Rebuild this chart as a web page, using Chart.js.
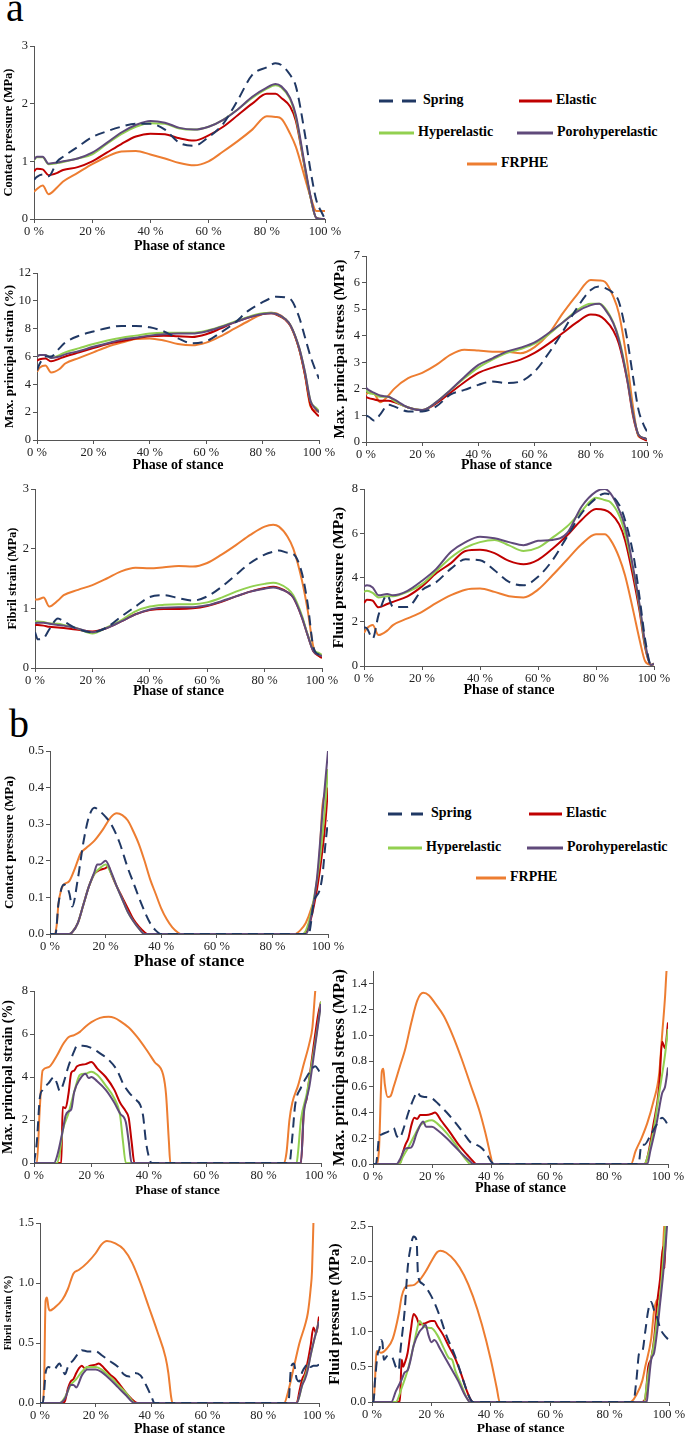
<!DOCTYPE html>
<html>
<head>
<meta charset="utf-8">
<script src="https://cdn.jsdelivr.net/npm/chart.js@4.4.1/dist/chart.umd.min.js"></script>
<style>
  html, body { margin: 0; padding: 0; background: #fff; }
  body { position: relative; width: 685px; height: 1437px; overflow: hidden; font-family: 'Liberation Serif', 'Times New Roman', serif; }
  canvas { position: absolute; }
  .letter { position: absolute; font-size: 40px; line-height: 40px; color: #000; }
  .leg { position: absolute; font-weight: bold; font-size: 14px; line-height: 16px; white-space: nowrap; color: #000; }
  svg { position: absolute; overflow: visible; }
</style>
</head>
<body>
<div class="letter" style="left:6px;top:-12px">a</div>
<div class="letter" style="left:9px;top:704px">b</div>
<script>
const SERIES = ['Spring', 'Elastic', 'Hyperelastic', 'Porohyperelastic', 'FRPHE'];
const COLORS = ['#203864', '#c00000', '#92d050', '#604a7b', '#ed7d31'];
const PHASE_TICKS = [0, 20, 40, 60, 80, 100];

// ---- panel a : one phase grid (%) shared by all curves
const X_A = [0,1,3,5,8,10,15,20,25,30,35,40,45,50,55,60,65,70,75,80,83,85,88,90,93,95,97,99,100];

// contact pressure (MPa)
const A1_SPRING  = [0.68,0.73,0.77,0.74,1.0,1.08,1.25,1.42,1.52,1.6,1.65,1.65,1.55,1.32,1.27,1.42,1.65,2.06,2.5,2.63,2.7,2.67,2.5,2.3,1.5,0.85,0.33,0.1,0.0];
const A1_ELASTIC = [0.83,0.87,0.86,0.76,0.8,0.85,0.9,1.0,1.15,1.3,1.43,1.48,1.47,1.4,1.36,1.45,1.6,1.8,2.0,2.17,2.17,2.1,1.95,1.7,0.9,0.38,0.02,0,0];
const A1_HYPER   = [1.02,1.07,1.07,0.95,0.97,0.99,1.05,1.12,1.3,1.47,1.6,1.66,1.65,1.57,1.55,1.6,1.72,1.9,2.1,2.26,2.32,2.28,2.08,1.76,0.92,0.38,0.02,0,0];
const A1_PORO    = [1.03,1.08,1.08,0.96,0.98,1.0,1.05,1.15,1.32,1.5,1.63,1.7,1.67,1.58,1.55,1.6,1.72,1.9,2.12,2.28,2.34,2.3,2.1,1.8,0.95,0.4,0.02,0,0];
const A1_FRPHE   = [0.47,0.52,0.58,0.43,0.55,0.65,0.8,0.95,1.08,1.17,1.18,1.12,1.05,0.97,0.93,1.0,1.17,1.35,1.55,1.78,1.77,1.74,1.48,1.25,0.73,0.39,0.14,0.14,0.14];

// max. principal strain (%)
const A2_SPRING  = [5.0,5.5,6.0,6.0,6.6,7.0,7.5,7.8,8.05,8.2,8.2,8.1,7.8,7.3,6.95,7.1,7.7,8.4,9.3,9.9,10.2,10.3,10.25,10.1,8.8,7.4,6.0,4.9,4.4];
const A2_ELASTIC = [5.7,5.8,5.85,5.65,5.85,6.0,6.3,6.6,6.9,7.1,7.3,7.45,7.5,7.45,7.4,7.6,8.0,8.45,8.8,9.05,9.1,9.0,8.65,8.15,6.5,4.7,2.5,1.9,1.7];
const A2_HYPER   = [6.0,6.1,6.1,5.9,6.1,6.3,6.6,6.9,7.15,7.35,7.5,7.65,7.7,7.7,7.7,7.85,8.15,8.5,8.85,9.1,9.15,9.05,8.7,8.2,6.6,4.9,2.8,2.3,2.1];
const A2_PORO    = [6.0,6.1,6.1,5.9,6.0,6.15,6.4,6.7,6.95,7.2,7.35,7.5,7.6,7.65,7.65,7.8,8.1,8.45,8.8,9.05,9.1,9.05,8.7,8.2,6.6,4.9,2.8,2.2,2.0];
const A2_FRPHE   = [4.9,5.2,5.35,4.85,5.1,5.5,5.9,6.3,6.7,7.0,7.25,7.3,7.15,6.9,6.8,7.0,7.45,8.0,8.55,9.05,9.15,9.1,8.7,8.2,6.5,4.7,2.4,2.1,2.0];

// max. principal stress (MPa)
const A3_SPRING  = [1.0,0.95,0.8,1.03,1.4,1.34,1.15,1.15,1.34,1.78,1.96,2.15,2.28,2.22,2.28,2.65,3.34,4.15,5.03,5.72,5.85,5.8,5.6,5.28,3.84,2.47,1.2,0.6,0.4];
const A3_ELASTIC = [1.7,1.65,1.6,1.55,1.55,1.5,1.3,1.2,1.45,1.85,2.25,2.6,2.8,2.95,3.1,3.35,3.7,4.1,4.5,4.8,4.75,4.6,4.2,3.7,2.3,1.0,0.25,0.1,0.05];
const A3_HYPER   = [1.95,1.85,1.8,1.7,1.7,1.55,1.3,1.2,1.5,1.95,2.4,2.8,3.1,3.35,3.5,3.7,4.05,4.5,4.95,5.2,5.2,5.05,4.5,3.9,2.4,1.1,0.27,0.15,0.1];
const A3_PORO    = [2.05,1.95,1.85,1.75,1.7,1.6,1.3,1.2,1.5,1.95,2.45,2.9,3.15,3.4,3.55,3.75,4.1,4.5,4.9,5.15,5.2,5.0,4.47,3.84,2.34,1.09,0.27,0.15,0.1];
const A3_FRPHE   = [1.8,1.85,1.8,1.5,1.75,2.0,2.4,2.6,2.9,3.28,3.47,3.44,3.4,3.4,3.34,3.57,4.07,4.84,5.53,6.1,6.08,6.03,5.47,4.84,2.97,1.34,0.21,0.15,0.1];

// fibril strain (MPa)
const A4_SPRING  = [0.6,0.48,0.5,0.65,0.83,0.78,0.65,0.6,0.68,0.86,1.03,1.19,1.22,1.17,1.13,1.2,1.36,1.56,1.76,1.9,1.95,1.97,1.93,1.91,1.59,1.08,0.35,0.22,0.18];
const A4_ELASTIC = [0.72,0.72,0.71,0.69,0.68,0.67,0.64,0.61,0.67,0.78,0.9,0.97,0.99,0.99,1.0,1.04,1.11,1.2,1.28,1.34,1.36,1.34,1.27,1.18,0.85,0.55,0.28,0.2,0.17];
const A4_HYPER   = [0.78,0.78,0.77,0.75,0.74,0.72,0.66,0.58,0.68,0.8,0.95,1.03,1.06,1.07,1.07,1.1,1.18,1.28,1.36,1.41,1.43,1.41,1.33,1.22,0.88,0.56,0.3,0.25,0.22];
const A4_PORO    = [0.75,0.76,0.76,0.74,0.72,0.71,0.66,0.6,0.67,0.78,0.9,0.98,1.01,1.02,1.02,1.05,1.12,1.2,1.28,1.33,1.35,1.33,1.27,1.18,0.85,0.55,0.28,0.22,0.2];
const A4_FRPHE   = [1.15,1.15,1.18,1.03,1.13,1.22,1.31,1.39,1.5,1.62,1.68,1.67,1.69,1.71,1.7,1.76,1.9,2.06,2.23,2.37,2.4,2.37,2.2,2.0,1.47,0.97,0.35,0.2,0.17];

// fluid pressure (MPa)
const A5_SPRING  = [1.75,1.7,1.24,2.3,3.2,2.67,2.67,3.43,3.8,4.4,4.82,4.78,4.33,3.8,3.65,4.03,4.78,5.84,6.9,7.58,7.8,7.73,7.28,6.6,4.94,3.12,1.16,0.05,0.05];
const A5_ELASTIC = [2.85,3.0,2.95,2.65,2.8,2.9,3.15,3.6,4.2,4.65,5.2,5.25,5.1,4.75,4.6,4.8,5.3,5.9,6.6,7.1,7.05,6.9,6.4,5.7,3.9,2.5,0.8,0.05,0.1];
const A5_HYPER   = [3.35,3.4,3.3,3.1,3.15,3.15,3.35,3.7,4.3,4.9,5.35,5.6,5.7,5.45,5.2,5.35,5.8,6.3,7.0,7.6,7.5,7.4,6.8,6.0,4.2,2.7,0.9,0.05,0.1];
const A5_PORO    = [3.6,3.65,3.55,3.2,3.25,3.2,3.4,3.85,4.4,5.16,5.6,5.84,5.77,5.6,5.46,5.66,5.7,6.0,7.2,7.88,8.0,7.8,7.05,6.3,4.3,2.8,1.0,0.05,0.1];
const A5_FRPHE   = [1.5,1.7,1.85,1.4,1.6,1.85,2.15,2.45,2.85,3.2,3.45,3.5,3.35,3.15,3.1,3.45,4.1,4.8,5.5,5.95,5.95,5.7,4.9,4.1,2.4,1.2,0.2,0.05,0.1];

// ---- panel b : [phase %, value] pairs per curve
const B1_SPRING  = [[0,0],[2,0],[3,0.08],[5,0.135],[6,0.13],[7,0.11],[8,0.075],[10,0.15],[12,0.25],[14,0.32],[16,0.345],[18,0.335],[20,0.32],[22,0.3],[25,0.25],[28,0.18],[30,0.14],[33,0.08],[36,0.03],[38,0.01],[40,0],[93,0],[95,0.09],[97,0.12],[98,0.16],[99,0.24],[100,0.31]];
const B1_ELASTIC = [[0,0],[7,0],[8,0.005],[10,0.03],[12,0.08],[14,0.13],[16,0.165],[18,0.175],[20,0.18],[21,0.185],[22,0.165],[24,0.13],[26,0.1],[28,0.07],[30,0.04],[32,0.02],[34,0.005],[35,0],[91,0],[93,0.02],[95,0.08],[97,0.17],[99,0.3],[100,0.4]];
const B1_HYPER   = [[0,0],[7,0],[8,0.005],[10,0.03],[12,0.08],[14,0.13],[16,0.165],[18,0.18],[20,0.19],[22,0.165],[24,0.13],[26,0.095],[28,0.06],[30,0.035],[32,0.015],[34,0],[91,0],[93,0.03],[95,0.1],[97,0.2],[99,0.35],[100,0.45]];
const B1_PORO    = [[0,0],[7,0],[8,0.005],[10,0.03],[12,0.08],[14,0.13],[16,0.17],[17,0.19],[18,0.19],[20,0.2],[22,0.17],[24,0.13],[26,0.095],[28,0.06],[30,0.035],[32,0.015],[34,0],[92,0],[94,0.05],[96,0.15],[98,0.33],[100,0.5]];
const B1_FRPHE   = [[0,0],[1.5,0],[2.5,0.03],[3,0.08],[4,0.12],[5,0.135],[7,0.145],[9,0.18],[11,0.22],[13,0.235],[16,0.255],[19,0.285],[22,0.32],[24,0.33],[26,0.325],[28,0.31],[30,0.28],[32,0.245],[34,0.2],[36,0.15],[38,0.11],[40,0.07],[42,0.04],[44,0.018],[46,0.004],[47,0],[88,0],[90,0.01],[92,0.03],[94,0.07],[96,0.13],[97,0.22],[98,0.35],[99,0.39],[100,0.45]];

const B2_SPRING  = [[0,0],[1,1.0],[2,3.0],[3,3.4],[5,3.7],[7,4.0],[8,3.7],[9,3.35],[10,3.6],[12,4.5],[14,5.2],[15,5.45],[17,5.45],[20,5.35],[23,5.1],[26,4.8],[29,4.3],[31,3.7],[33,3.3],[35,3.0],[37,2.7],[38,2.2],[39,1.0],[40,0.3],[41,0],[89,0],[90,1.2],[91,2.7],[93,3.5],[95,4.0],[97,4.4],[98,4.5],[99,4.35],[100,4.1]];
const B2_ELASTIC = [[0,0],[9.5,0],[10,2.6],[11,2.55],[12,3.2],[13,4.2],[14,4.3],[15,4.5],[18,4.6],[20,4.7],[22,4.4],[25,4.0],[28,3.4],[30,2.8],[32,2.4],[33,2.1],[34,1.0],[35,0],[93,0],[94,2.4],[95,3.0],[96,4.0],[97,5.0],[98,6.0],[99,6.9],[100,7.5]];
const B2_HYPER   = [[0,0],[8,0],[9,0.5],[10,1.5],[12,2.3],[14,3.3],[16,4.1],[18,4.15],[20,4.25],[22,4.1],[25,3.6],[28,3.0],[30,2.2],[31,1.0],[32,0],[91.5,0],[92,0.5],[93,2.0],[95,3.2],[97,4.8],[99,6.5],[100,7.5]];
const B2_PORO    = [[0,0],[7,0],[8,0.3],[10,1.5],[11,2.2],[12,2.4],[13,2.5],[14,3.3],[16,3.9],[18,4.15],[19,3.95],[20,4.0],[22,3.8],[25,3.4],[28,2.8],[30,2.3],[32,1.9],[33,1.0],[34,0],[93,0],[94,2.3],[95,3.0],[96,3.6],[98,5.5],[100,7.4]];
const B2_FRPHE   = [[0,0],[1,0],[2,2.5],[3,4.3],[5,4.45],[8,5.0],[10,5.5],[12,5.85],[14,5.95],[16,6.1],[18,6.35],[20,6.55],[23,6.75],[26,6.8],[28,6.75],[30,6.6],[33,6.3],[36,5.85],[39,5.3],[42,4.7],[45,4.1],[46,3.2],[47,1.0],[47.5,0],[87,0],[88,0.5],[89,2.0],[90,2.8],[92,3.6],[94,4.6],[96,5.6],[97,6.3],[98,8.0],[98.5,8.6]];

const B3_SPRING  = [[0,0],[1,0],[1.5,0.08],[2,0.2],[3,0.23],[5,0.25],[7,0.28],[8,0.22],[9,0.2],[10,0.25],[12,0.4],[14,0.52],[15,0.56],[16,0.53],[18,0.52],[20,0.51],[22,0.47],[25,0.4],[28,0.32],[31,0.23],[33,0.17],[35,0.15],[37,0.12],[39,0.06],[40,0.02],[41,0],[90,0],[91,0.15],[92,0.15],[94,0.22],[96,0.3],[98,0.36],[99,0.34],[100,0.3]];
const B3_ELASTIC = [[0,0],[9,0],[10,0.08],[11,0.15],[12,0.2],[13,0.3],[14,0.36],[15,0.35],[16,0.38],[18,0.38],[20,0.39],[21,0.4],[23,0.34],[26,0.25],[29,0.15],[32,0.07],[34,0.02],[35,0],[92,0],[93,0.05],[95,0.3],[97,0.6],[98,0.95],[99,0.9],[100,1.1]];
const B3_HYPER   = [[0,0],[9,0],[10,0.05],[12,0.13],[14,0.22],[16,0.3],[18,0.33],[20,0.34],[22,0.31],[25,0.24],[28,0.15],[30,0.08],[32,0.02],[33,0],[92,0],[93,0.05],[95,0.25],[97,0.55],[99,0.85],[100,1.05]];
const B3_PORO    = [[0,0],[8,0],[9,0.03],[11,0.12],[13,0.13],[15,0.25],[17,0.33],[18,0.29],[20,0.29],[22,0.26],[25,0.2],[28,0.13],[31,0.06],[33,0.02],[34,0],[93,0],[94,0.1],[96,0.3],[98,0.55],[99,0.6],[100,0.75]];
const B3_FRPHE   = [[0,0],[1,0],[2,0.1],[3,0.72],[3.5,0.74],[4,0.62],[5,0.52],[6,0.53],[7,0.6],[9,0.75],[11,0.9],[13,1.1],[15,1.27],[17,1.33],[19,1.31],[21,1.25],[24,1.15],[27,1.0],[30,0.82],[33,0.62],[36,0.42],[38,0.25],[40,0.05],[40.5,0],[87.5,0],[89,0.1],[91,0.2],[93,0.32],[95,0.48],[97,0.7],[98,1.0],[99,1.3],[99.5,1.5],[100,1.6]];

const B4_SPRING  = [[0,0],[1,0],[1.5,0.1],[2,0.25],[3,0.3],[5,0.28],[7,0.33],[8,0.28],[9,0.24],[10,0.3],[12,0.36],[14,0.42],[15,0.44],[17,0.43],[20,0.43],[22,0.4],[25,0.35],[28,0.3],[30,0.24],[32,0.22],[34,0.25],[36,0.23],[38,0.15],[40,0.05],[41,0],[89,0],[90,0.3],[91,0.33],[92,0.2],[93,0.18],[94,0.26],[95,0.3],[96,0.33],[97,0.3],[98,0.31],[99,0.31],[100,0.32]];
const B4_ELASTIC = [[0,0],[8,0],[9,0.02],[10,0.12],[11,0.18],[12,0.2],[13,0.25],[14,0.29],[15,0.31],[16,0.29],[18,0.31],[20,0.32],[21,0.33],[23,0.29],[25,0.24],[27,0.2],[29,0.14],[31,0.08],[33,0.03],[35,0],[92,0],[93,0.1],[94,0.2],[95,0.25],[96,0.35],[97,0.48],[98,0.63],[99,0.58],[100,0.72]];
const B4_HYPER   = [[0,0],[7,0],[9,0.05],[11,0.15],[13,0.2],[15,0.26],[17,0.3],[20,0.3],[22,0.28],[25,0.22],[28,0.15],[31,0.08],[33,0.02],[34,0],[92,0],[94,0.15],[96,0.3],[98,0.5],[100,0.68]];
const B4_PORO    = [[0,0],[7,0],[9,0.04],[11,0.15],[12,0.15],[13,0.13],[15,0.23],[17,0.28],[20,0.28],[22,0.26],[25,0.2],[28,0.13],[31,0.06],[33,0.01],[34,0],[92,0],[94,0.15],[95,0.2],[96,0.28],[97,0.4],[98,0.5],[100,0.68]];
const B4_FRPHE   = [[0,0],[1,0],[1.5,0.2],[2,0.85],[2.5,0.88],[3,0.8],[3.5,0.77],[5,0.79],[8,0.86],[10,0.95],[12,1.08],[14,1.11],[17,1.17],[20,1.25],[22,1.32],[24,1.35],[27,1.33],[30,1.28],[33,1.17],[36,1.0],[39,0.8],[42,0.6],[45,0.38],[46,0.25],[47,0.05],[47.5,0],[87.5,0],[89,0.1],[91,0.3],[93,0.5],[95,0.65],[96,0.75],[97,0.95],[97.5,1.1],[98,1.5],[98.3,1.7]];

const B5_SPRING  = [[0,0],[0.5,0],[1,0.3],[2,0.7],[2.5,0.75],[3,0.88],[3.5,0.85],[4,0.6],[5,0.65],[6,0.66],[7,0.62],[8,0.5],[9,0.45],[9.5,0.7],[11,1.3],[12,1.9],[13,2.2],[14,2.35],[15,2.3],[15.5,1.8],[17,1.68],[20,1.5],[23,1.2],[25,0.95],[28,0.65],[30,0.4],[32,0.15],[33,0.05],[34,0],[88,0],[89,0.3],[90,0.7],[91,0.72],[92,1.0],[93,1.3],[94,1.42],[95,1.3],[96,1.2],[97,1.05],[99,0.92],[100,0.88]];
const B5_ELASTIC = [[0,0],[9,0],[9.5,0.1],[10,0.6],[10.5,0.5],[11,0.55],[12,0.7],[13,1.0],[14,1.25],[15,1.2],[16,1.1],[18,1.12],[20,1.15],[21,1.15],[22,1.08],[24,0.95],[26,0.78],[28,0.62],[30,0.4],[32,0.15],[33,0.05],[34,0],[91,0],[92,0.05],[93,0.5],[94,0.62],[95,0.9],[96,1.4],[97,1.75],[98,2.2],[98.5,1.9],[99,2.6]];
const B5_HYPER   = [[0,0],[8,0],[10,0.2],[12,0.45],[14,0.8],[15,1.0],[16,1.15],[17,1.1],[18,1.06],[20,1.05],[22,0.95],[24,0.78],[26,0.62],[27,0.6],[28,0.45],[30,0.25],[32,0.05],[33,0],[91.5,0],[93,0.4],[95,0.85],[96,1.2],[97,1.5],[98,2.0],[99,2.6]];
const B5_PORO    = [[0,0],[6.5,0],[8,0.15],[10,0.32],[11,0.42],[12,0.45],[13,0.6],[14,0.8],[16,1.0],[17,1.05],[18,1.1],[19,0.95],[20,0.85],[21,0.88],[23,0.75],[25,0.6],[27,0.45],[29,0.3],[31,0.12],[32,0.05],[33,0],[92.5,0],[93,0.2],[94,0.6],[95,0.7],[96,1.0],[97,1.4],[98,1.8],[99,2.3],[99.5,2.6]];
const B5_FRPHE   = [[0,0],[0.5,0],[1,0.3],[1.5,0.72],[2,0.72],[3,0.7],[5,0.76],[7,0.9],[9,1.25],[10,1.5],[11,1.62],[12,1.65],[14,1.66],[16,1.73],[18,1.85],[20,2.0],[22,2.13],[23,2.15],[25,2.12],[28,2.0],[31,1.8],[34,1.5],[37,1.1],[40,0.6],[42,0.2],[43,0],[87,0],[89,0.1],[91,0.3],[92,0.5],[94,0.9],[95,1.3],[96,1.45],[97,1.5],[98,2.2],[98.5,2.6]];

// y tick values per plot
const TICKS_A1 = [0,1,2,3];
const TICKS_A2 = [0,2,4,6,8,10,12];
const TICKS_A3 = [0,1,2,3,4,5,6,7];
const TICKS_A4 = [0,1,2,3];
const TICKS_A5 = [0,2,4,6,8];
const TICKS_B1 = [0,0.1,0.2,0.3,0.4,0.5];
const TICKS_B2 = [0,2,4,6,8];
const TICKS_B3 = [0,0.2,0.4,0.6,0.8,1.0,1.2,1.4];
const TICKS_B4 = [0,0.5,1.0,1.5];
const TICKS_B5 = [0,0.5,1.0,1.5,2.0,2.5];

const SERIF = "'Liberation Serif', 'Times New Roman', serif";

// box = plot area [left, top, right, bottom]; ytx/yts = y title centre x / size; xty/xts = x title centre y / size
const PLOTS = [
  {yTitle:'Contact pressure (MPa)', ticks:TICKS_A1, max:3, dec:0, xs:X_A, curves:[A1_SPRING,A1_ELASTIC,A1_HYPER,A1_PORO,A1_FRPHE], box:[34,46,325,219], ytx:8.5, yts:12.5, xty:246.5, xts:14},
  {yTitle:'Max. principal strain (%)', ticks:TICKS_A2, max:12, dec:0, xs:X_A, curves:[A2_SPRING,A2_ELASTIC,A2_HYPER,A2_PORO,A2_FRPHE], box:[37,273,319,440], ytx:10, yts:13, xty:466, xts:14},
  {yTitle:'Max. principal stress (MPa)', ticks:TICKS_A3, max:7, dec:0, xs:X_A, curves:[A3_SPRING,A3_ELASTIC,A3_HYPER,A3_PORO,A3_FRPHE], box:[366,256,647,442], ytx:339.5, yts:15, xty:466, xts:14},
  {yTitle:'Fibril strain (MPa)', ticks:TICKS_A4, max:3, dec:0, xs:X_A, curves:[A4_SPRING,A4_ELASTIC,A4_HYPER,A4_PORO,A4_FRPHE], box:[35,489,322,668], ytx:12.5, yts:12.5, xty:692, xts:14},
  {yTitle:'Fluid pressure (MPa)', ticks:TICKS_A5, max:8, dec:0, xs:X_A, curves:[A5_SPRING,A5_ELASTIC,A5_HYPER,A5_PORO,A5_FRPHE], box:[364,489,654,666], ytx:339, yts:15.5, xty:691, xts:14},
  {yTitle:'Contact pressure (MPa)', ticks:TICKS_B1, max:0.5, dec:1, xs:null, curves:[B1_SPRING,B1_ELASTIC,B1_HYPER,B1_PORO,B1_FRPHE], box:[50,751,328,934], ytx:10, yts:13, xty:962, xts:17},
  {yTitle:'Max. principal strain (%)', ticks:TICKS_B2, max:8, dec:0, xs:null, curves:[B2_SPRING,B2_ELASTIC,B2_HYPER,B2_PORO,B2_FRPHE], box:[34,991,321,1163], ytx:8, yts:14, xty:1190, xts:13},
  {yTitle:'Max. principal stress (MPa)', ticks:TICKS_B3, max:1.5, dec:1, xs:null, curves:[B3_SPRING,B3_ELASTIC,B3_HYPER,B3_PORO,B3_FRPHE], box:[373,971,668,1164], ytx:340, yts:16.5, xty:1189, xts:14},
  {yTitle:'Fibril strain (%)', ticks:TICKS_B4, max:1.5, dec:1, xs:null, curves:[B4_SPRING,B4_ELASTIC,B4_HYPER,B4_PORO,B4_FRPHE], box:[40,1223,319,1403], ytx:8, yts:10.5, xty:1430, xts:14},
  {yTitle:'Fluid pressure (MPa)', ticks:TICKS_B5, max:2.5, dec:1, xs:null, curves:[B5_SPRING,B5_ELASTIC,B5_HYPER,B5_PORO,B5_FRPHE], box:[372,1226,669,1402], ytx:335, yts:15.5, xty:1429, xts:13.5}
];

function toPoints(curve, xs) {
  if (xs) return curve.map((y, i) => ({x: xs[i], y: y}));
  return curve.map(p => ({x: p[0], y: p[1]}));
}

const PAD_TOP = 10, PAD_RIGHT = 18;

PLOTS.forEach(function(p) {
  const [l, t, r, b] = p.box;
  const left = Math.round(p.ytx - 0.6 * p.yts);
  const top = t - PAD_TOP;
  const bottom = Math.round(p.xty + 0.6 * p.xts);
  const yW = l - left;
  const xH = bottom - b;
  const cv = document.createElement('canvas');
  cv.width = r + PAD_RIGHT - left;
  cv.height = bottom - top;
  cv.style.left = left + 'px';
  cv.style.top = top + 'px';
  cv.style.width = cv.width + 'px';
  cv.style.height = cv.height + 'px';
  document.body.appendChild(cv);

  const datasets = p.curves.map(function(c, i) {
    return {
      label: SERIES[i],
      data: toPoints(c, p.xs),
      borderColor: COLORS[i],
      backgroundColor: COLORS[i],
      borderWidth: 2,
      borderDash: i === 0 ? [10, 6] : [],
      pointRadius: 0,
      fill: false,
      cubicInterpolationMode: 'monotone',
      order: [0, 3, 2, 1, 4][i]
    };
  });

  new Chart(cv, {
    type: 'line',
    data: {datasets: datasets},
    options: {
      responsive: false,
      animation: false,
      devicePixelRatio: 1,
      layout: {padding: {top: PAD_TOP, right: PAD_RIGHT, left: 0, bottom: 0}},
      plugins: {legend: {display: false}, tooltip: {enabled: false}},
      scales: {
        x: {
          type: 'linear', min: 0, max: 100,
          afterBuildTicks: s => { s.ticks = PHASE_TICKS.map(v => ({value: v})); },
          afterFit: s => { s.height = xH; },
          ticks: {callback: v => v + ' %', font: {family: SERIF, size: 12.5}, color: '#222', padding: 1, maxRotation: 0, autoSkip: false},
          grid: {drawOnChartArea: false, drawTicks: true, tickLength: 4, color: '#555'},
          border: {display: true, color: '#555', width: 1},
          title: {display: true, text: 'Phase of stance', font: {family: SERIF, size: p.xts, weight: 'bold'}, color: '#000', padding: 0}
        },
        y: {
          min: 0, max: p.max,
          afterBuildTicks: s => { s.ticks = p.ticks.map(v => ({value: v})); },
          afterFit: s => { s.width = yW; },
          ticks: {callback: v => v.toFixed(p.dec), font: {family: SERIF, size: 12.5}, color: '#222', padding: 2, autoSkip: false},
          grid: {drawOnChartArea: false, drawTicks: true, tickLength: 4, color: '#555'},
          border: {display: true, color: '#555', width: 1},
          title: {display: true, text: p.yTitle, font: {family: SERIF, size: p.yts, weight: 'bold'}, color: '#000', padding: 0}
        }
      }
    }
  });
});

// legends: [series index, swatch x1, swatch x2, centre y, text x]
const LEGENDS = [
  [0,379,416,101,423],[1,519,552,101,556],[2,379,414,133,418],[3,517,553,133,557],[4,467,497,164,501],
  [0,388,423,814,431],[1,529,562,814,566],[2,388,422,848,426],[3,527,563,848,567],[4,476,506,878,510]
];
const NS = 'http://www.w3.org/2000/svg';
LEGENDS.forEach(function(it) {
  const [i, x1, x2, y, tx] = it;
  const svg = document.createElementNS(NS, 'svg');
  const w = x2 - x1;
  svg.setAttribute('width', w);
  svg.setAttribute('height', 6);
  svg.style.left = x1 + 'px';
  svg.style.top = (y - 3) + 'px';
  const ln = document.createElementNS(NS, 'line');
  ln.setAttribute('x1', 0); ln.setAttribute('y1', 3);
  ln.setAttribute('x2', w); ln.setAttribute('y2', 3);
  ln.setAttribute('stroke', COLORS[i]);
  ln.setAttribute('stroke-width', 3);
  if (i === 0) ln.setAttribute('stroke-dasharray', '14 9');
  svg.appendChild(ln);
  document.body.appendChild(svg);
  const sp = document.createElement('div');
  sp.className = 'leg';
  sp.textContent = SERIES[i];
  sp.style.left = tx + 'px';
  sp.style.top = (y - 9) + 'px';
  document.body.appendChild(sp);
});
</script>
</body>
</html>
